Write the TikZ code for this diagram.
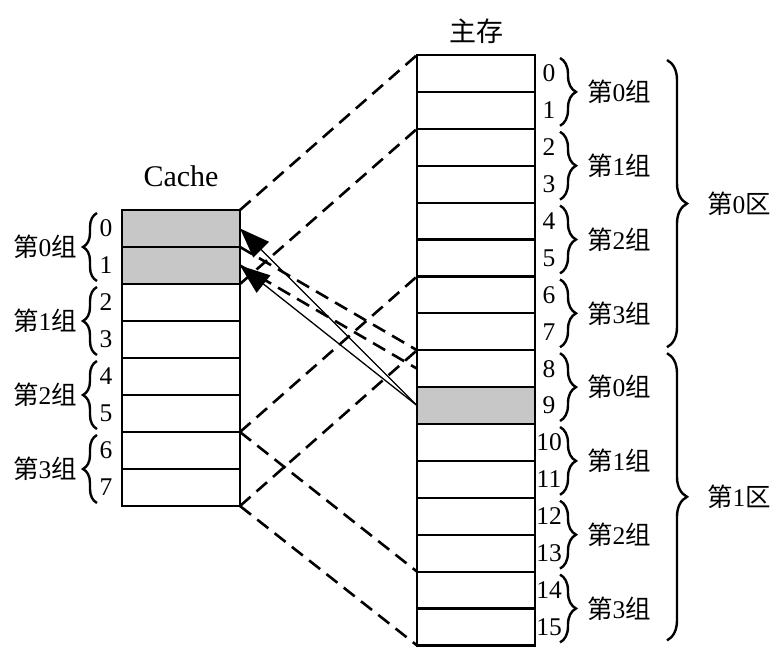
\documentclass[tikz,border=0pt]{standalone}
\usepackage{fontspec}
\setmainfont{Liberation Serif}
\newfontfamily\cjk{Noto Sans CJK SC}
\usetikzlibrary{arrows.meta,calc,positioning,decorations.pathreplacing}
\newcommand{\grpname}[1]{{\cjk 第}#1{\cjk 组}}
\newcommand{\areaname}[1]{{\cjk 第}#1{\cjk 区}}

\begin{document}
\begin{tikzpicture}[x=1pt,y=-1pt,font=\fontsize{25.5}{30}\selectfont,
	ccell/.style={draw,line width=2.2pt,minimum width=118pt,minimum height=37pt,inner sep=0pt,outer sep=0pt},
	mcell/.style={ccell,minimum height=36.9pt},
	hit/.style={fill=black!22},
	clbl/.style={anchor=center,xshift=-16pt},
	mlbl/.style={anchor=center,xshift=14pt},
	map/.style={line width=2.6pt,dash pattern=on 14pt off 8pt},
	fetch/.style={-{Triangle[length=30pt,width=22pt]},line width=1.3pt},
	grpbrace/.style={decorate,decoration={brace,amplitude=#1},line width=2.4pt},
	txt/.style={inner sep=1pt}]
			\useasboundingbox (0,0) rectangle (780,651);
			\node[ccell,hit,label={[clbl]left:0}] (c0) at (181,228.5) {};
			\node[ccell,hit,label={[clbl]left:1}] [below=0pt of c0] (c1) {};
			\node[ccell,label={[clbl]left:2}] [below=0pt of c1] (c2) {};
			\node[ccell,label={[clbl]left:3}] [below=0pt of c2] (c3) {};
			\node[ccell,label={[clbl]left:4}] [below=0pt of c3] (c4) {};
			\node[ccell,label={[clbl]left:5}] [below=0pt of c4] (c5) {};
			\node[ccell,label={[clbl]left:6}] [below=0pt of c5] (c6) {};
			\node[ccell,label={[clbl]left:7}] [below=0pt of c6] (c7) {};
			\node[mcell,label={[mlbl]right:0}] (m0) at (476,73.45) {};
			\node[mcell,label={[mlbl]right:1}] [below=0pt of m0] (m1) {};
			\node[mcell,label={[mlbl]right:2}] [below=0pt of m1] (m2) {};
			\node[mcell,label={[mlbl]right:3}] [below=0pt of m2] (m3) {};
			\node[mcell,label={[mlbl]right:4}] [below=0pt of m3] (m4) {};
			\node[mcell,label={[mlbl]right:5}] [below=0pt of m4] (m5) {};
			\node[mcell,label={[mlbl]right:6}] [below=0pt of m5] (m6) {};
			\node[mcell,label={[mlbl]right:7}] [below=0pt of m6] (m7) {};
			\node[mcell,label={[mlbl]right:8}] [below=0pt of m7] (m8) {};
			\node[mcell,hit,label={[mlbl]right:9}] [below=0pt of m8] (m9) {};
			\node[mcell,label={[mlbl]right:10}] [below=0pt of m9] (m10) {};
			\node[mcell,label={[mlbl]right:11}] [below=0pt of m10] (m11) {};
			\node[mcell,label={[mlbl]right:12}] [below=0pt of m11] (m12) {};
			\node[mcell,label={[mlbl]right:13}] [below=0pt of m12] (m13) {};
			\node[mcell,label={[mlbl]right:14}] [below=0pt of m13] (m14) {};
			\node[mcell,label={[mlbl]right:15}] [below=0pt of m14] (m15) {};
			\node[above=20pt of c0] (cachename) {\fontsize{30}{34}\selectfont Cache};
			\node[above=8pt of m0] (memname) {\fontsize{27}{30}\selectfont\cjk 主存};
			\draw[grpbrace=14pt] ([xshift=-25pt,yshift=3pt]c1.south west) -- ([xshift=-25pt,yshift=-3pt]c0.north west) node[txt,midway,left=18pt] {\grpname{0}};
			\draw[grpbrace=14pt] ([xshift=-25pt,yshift=3pt]c3.south west) -- ([xshift=-25pt,yshift=-3pt]c2.north west) node[txt,midway,left=18pt] {\grpname{1}};
			\draw[grpbrace=14pt] ([xshift=-25pt,yshift=3pt]c5.south west) -- ([xshift=-25pt,yshift=-3pt]c4.north west) node[txt,midway,left=18pt] {\grpname{2}};
			\draw[grpbrace=14pt] ([xshift=-25pt,yshift=3pt]c7.south west) -- ([xshift=-25pt,yshift=-3pt]c6.north west) node[txt,midway,left=18pt] {\grpname{3}};
			\draw[grpbrace=16pt] ([xshift=25pt,yshift=-3pt]m0.north east) -- ([xshift=25pt,yshift=3pt]m1.south east) node[txt,midway,right=25pt] {\grpname{0}};
			\draw[grpbrace=16pt] ([xshift=25pt,yshift=-3pt]m2.north east) -- ([xshift=25pt,yshift=3pt]m3.south east) node[txt,midway,right=25pt] {\grpname{1}};
			\draw[grpbrace=16pt] ([xshift=25pt,yshift=-3pt]m4.north east) -- ([xshift=25pt,yshift=3pt]m5.south east) node[txt,midway,right=25pt] {\grpname{2}};
			\draw[grpbrace=16pt] ([xshift=25pt,yshift=-3pt]m6.north east) -- ([xshift=25pt,yshift=3pt]m7.south east) node[txt,midway,right=25pt] {\grpname{3}};
			\draw[grpbrace=16pt] ([xshift=25pt,yshift=-3pt]m8.north east) -- ([xshift=25pt,yshift=3pt]m9.south east) node[txt,midway,right=25pt] {\grpname{0}};
			\draw[grpbrace=16pt] ([xshift=25pt,yshift=-3pt]m10.north east) -- ([xshift=25pt,yshift=3pt]m11.south east) node[txt,midway,right=25pt] {\grpname{1}};
			\draw[grpbrace=16pt] ([xshift=25pt,yshift=-3pt]m12.north east) -- ([xshift=25pt,yshift=3pt]m13.south east) node[txt,midway,right=25pt] {\grpname{2}};
			\draw[grpbrace=16pt] ([xshift=25pt,yshift=-3pt]m14.north east) -- ([xshift=25pt,yshift=3pt]m15.south east) node[txt,midway,right=25pt] {\grpname{3}};
			\draw[grpbrace=20pt] ([xshift=132pt,yshift=-5pt]m0.north east) -- ([xshift=132pt,yshift=3pt]m7.south east) node[txt,midway,right=38pt] {\areaname{0}};
			\draw[grpbrace=20pt] ([xshift=132pt,yshift=-3pt]m8.north east) -- ([xshift=132pt,yshift=5pt]m15.south east) node[txt,midway,right=38pt] {\areaname{1}};
			\draw[map] (c0.north east) -- (m0.north west);
			\draw[map] (c1.south east) -- (m2.north west);
			\draw[map] (c6.north east) -- (m6.north west);
			\draw[map] (c7.south east) -- (m8.north west);
			\draw[map] (c0.south east) -- (m8.north west);
			\draw[map] (c1.east) -- (m8.west);
			\draw[map] (c6.north east) -- (m14.north west);
			\draw[map] (c7.south east) -- (m15.south west);
			\draw[fetch] (m9.west) -- (c0.east);
			\draw[fetch] (m9.west) -- (c1.east);
		\end{tikzpicture}
\end{document}
